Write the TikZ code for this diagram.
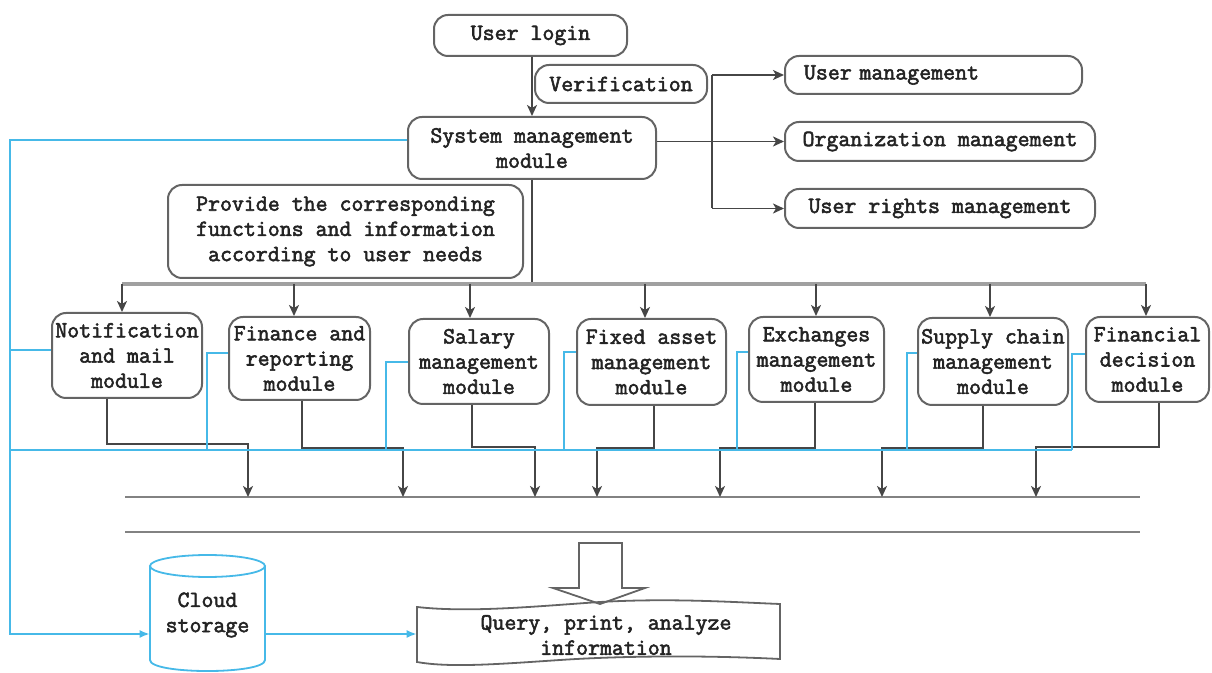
\documentclass[tikz,border=0pt]{standalone}
\usepackage{fontspec}
\newfontfamily\boxtt{Latin Modern Mono}[FakeBold=2.4]
\usetikzlibrary{arrows.meta,calc}
\definecolor{edge}{RGB}{70,70,70}
\definecolor{frame}{RGB}{100,100,100}
\definecolor{ink}{RGB}{35,35,35}
\definecolor{sky}{RGB}{70,185,232}
\definecolor{railgray}{RGB}{130,130,130}
\definecolor{busgray}{RGB}{160,160,160}
\begin{document}
\begin{tikzpicture}[x=0.5pt,y=-0.5pt,
  lbl/.style={text=ink, font=\boxtt\fontsize{11.6}{12.6}\selectfont},
  box/.style={lbl, draw=frame, line width=1pt, rounded corners=7pt, align=center, inner sep=0pt},
  flow/.style={draw=edge, line width=0.9pt},
  arr/.style={flow, -{Stealth[length=5.5pt,width=5pt,inset=1.5pt]}},
  cyanline/.style={draw=sky, line width=0.8pt},
  cyanarr/.style={cyanline, -{Latex[length=5pt,width=4pt]}},
  railline/.style={draw=railgray, line width=1.4pt},
  busline/.style={draw=busgray, line width=1.6pt},
]
\path[use as bounding box] (0,0) rectangle (1212,673);

% top: login and system management
\node[box, minimum width=96.5pt, minimum height=20.5pt] (login) at (530.5,35.5) {User login};
\node[box, minimum width=86pt, minimum height=19pt] (verif) at (621,84) {Verification};
\node[box, minimum width=124pt, minimum height=31pt] (sys) at (532,148) {System management\\module};
\draw[arr] (sys.north |- login.south) -- (sys.north);

% system management sub-functions
\node[box, minimum width=148.5pt, minimum height=19pt, inner xsep=9.5pt, text width=129.5pt, align=left] (um) at (933.5,75) {User management};
\node[box, minimum width=155pt, minimum height=19.5pt] (org) at (940,141.5) {Organization management};
\node[box, minimum width=155pt, minimum height=19.5pt] (ur) at (940,208.5) {User rights management};
\coordinate (br) at (712,0);
\draw[arr] (org.west -| sys.east) -- (org.west);
\draw[flow] (br |- um.west) -- (br |- ur.west);
\draw[arr] (br |- um.west) -- (um.west);
\draw[arr] (br |- ur.west) -- (ur.west);

\node[box, minimum width=177.5pt, minimum height=46.5pt] (need) at (345.5,231.5) {Provide the corresponding\\functions and information\\according to user needs};

% business modules
\node[box, minimum width=75pt, minimum height=42.5pt] (notif) at (127,355.5) {Notification\\and mail\\module};
\node[box, minimum width=70.5pt, minimum height=41.5pt] (fin) at (299.5,358.5) {Finance and\\reporting\\module};
\node[box, minimum width=70pt, minimum height=42.5pt] (sal) at (479,361.5) {Salary\\management\\module};
\node[box, minimum width=74.5pt, minimum height=43pt] (fix) at (651.5,362) {Fixed asset\\management\\module};
\node[box, minimum width=67.5pt, minimum height=42.5pt] (exch) at (816.5,359.5) {Exchanges\\management\\module};
\node[box, minimum width=75pt, minimum height=43.5pt] (sup) at (993,361.5) {Supply chain\\management\\module};
\node[box, minimum width=61.5pt, minimum height=42.5pt] (fdec) at (1147.5,359.5) {Financial\\decision\\module};

% distribution bus
\coordinate (b0) at (532,284);
\coordinate (bl0) at (122,284);
\coordinate (br0) at (1146,284);
\draw[flow] (sys.south) -- (b0);
\draw[busline] (bl0) -- (br0);
\foreach \n/\x in {notif/122, fin/294, sal/470, fix/645, exch/816, sup/990, fdec/1146}{
  \coordinate (d\n) at (\x,284);
  \draw[arr] (d\n) -- (d\n |- \n.north);
}

% collection rails
\coordinate (r1a) at (125,497);
\coordinate (r1b) at (1140,497);
\coordinate (r2a) at (125,532);
\coordinate (r2b) at (1140,532);
\draw[railline] (r1a) -- (r1b);
\draw[railline] (r2a) -- (r2b);
\foreach \n/\dx/\y/\t in {notif/-10/444/248, fin/1.25/448/403, sal/-3.5/447/535, fix/1.25/448/597, exch/-0.75/448/720, sup/-5/448/882, fdec/5.75/447/1036}{
  \coordinate (t\n) at (\t,497);
  \coordinate (k\n) at (\t,\y);
  \draw[arr] ([xshift=\dx pt]\n.south) |- (k\n) -- (t\n);
}

% cloud storage
\node[lbl, align=center, minimum width=57.5pt] (cloud) at (207.5,615) {Cloud\\storage};
\draw[sky, line width=0.9pt] (207.5,566) ellipse [x radius=57.5, y radius=11];
\draw[sky, line width=0.9pt] (150,566) -- (150,660) .. controls (150,674.7) and (265,674.7) .. (265,660) -- (265,566);

% query / print / analyze
\node[lbl, align=center, minimum width=189pt, minimum height=28pt] (qpa) at (606,635) {Query, print, analyze\\information};
\draw[frame, line width=0.9pt] (417,607) .. controls (470,613) and (540,606) .. (600,602)
  .. controls (670,598) and (730,602) .. (780,604) -- (780,659)
  .. controls (700,655) and (620,656) .. (560,660)
  .. controls (500,664) and (450,668) .. (417,662) -- cycle;
\draw[frame, line width=0.9pt] (579,543) -- (622,543) -- (622,588) -- (645,588) -- (600,604) -- (553,588) -- (579,588) -- cycle;

% storage links
\coordinate (bl) at (10,140);
\coordinate (bc) at (10,634);
\draw[cyanarr] (sys.west |- bl) -- (bl) -- (bc) -- ([yshift=-9.5pt]cloud.west);
\draw[cyanarr] ([yshift=-9.5pt]cloud.east) -- ([yshift=-9.5pt]cloud.east -| qpa.west);
\coordinate (bb) at (10,450);
\coordinate (be) at (1072,450);
\draw[cyanline] (bb) -- (be);
\coordinate (sn) at (10,350);
\draw[cyanline] (sn) -- (sn -| notif.west);
\foreach \n/\x/\y in {fin/207/353, sal/386/362, fix/564/352, exch/737/352, sup/907/353, fdec/1072/354}{
  \coordinate (s\n) at (\x,\y);
  \coordinate (u\n) at (\x,450);
  \draw[cyanline] (u\n) -- (s\n) -- (s\n -| \n.west);
}
\end{tikzpicture}
\end{document}
